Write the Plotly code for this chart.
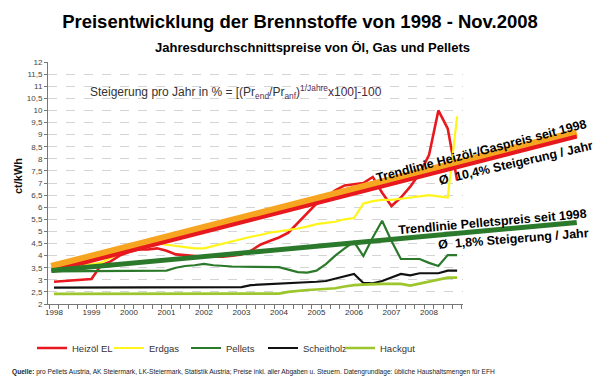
import plotly.graph_objects as go

# ---------------- data (quarterly, 1998 Q1 .. 2008 Q4) ----------------
year_labels = ["1998", "1999", "2000", "2001", "2002", "2003", "2004", "2005", "2006", "2007", "2008"]
year_ticks = [1998, 1999, 2000, 2001, 2002, 2003, 2004, 2005, 2006, 2007, 2008]
n_quarters = 44
quarters = [1998 + i * 0.25 for i in range(n_quarters)]

heizoel = [2.92, 2.95, 3.00, 3.00, 3.03, 3.60, 3.75, 4.00, 4.15, 4.25, 4.25, 4.30,
           4.20, 4.05, 4.02, 4.00, 3.95, 3.97, 3.95, 4.00, 4.05, 4.20, 4.45, 4.60,
           4.75, 4.95, 5.35, 5.75, 6.15, 6.40, 6.70, 6.90, 6.95, 7.00, 7.25, 6.60,
           6.05, 6.40, 6.85, 7.40, 8.15, 10.00, 9.25, 7.10]
erdgas = [3.60, 3.60, 3.60, 3.62, 3.65, 3.70, 3.90, 4.10, 4.30, 4.45, 4.50, 4.50,
          4.45, 4.40, 4.35, 4.30, 4.30, 4.40, 4.50, 4.60, 4.70, 4.78, 4.85, 4.95,
          5.00, 5.05, 5.12, 5.20, 5.30, 5.35, 5.40, 5.50, 5.55, 6.15, 6.25, 6.30,
          6.30, 6.35, 6.40, 6.45, 6.50, 6.45, 6.40, 9.75]
pellets = [3.35, 3.35, 3.35, 3.35, 3.35, 3.35, 3.35, 3.35, 3.35, 3.35, 3.35, 3.35,
           3.38, 3.50, 3.57, 3.60, 3.66, 3.60, 3.56, 3.55, 3.54, 3.54, 3.54, 3.54,
           3.52, 3.42, 3.32, 3.30, 3.38, 3.65, 4.00, 4.30, 4.57, 3.98, 4.75, 5.44,
           4.60, 3.86, 3.86, 3.86, 3.70, 3.57, 4.02, 4.02]
scheitholz = [2.68] * 20 + [2.70, 2.78, 2.80, 2.82, 2.83, 2.84, 2.85, 2.88, 2.92, 2.95,
                            3.05, 3.15, 3.24, 2.87, 2.85, 2.95, 3.10, 3.24, 3.18, 3.27,
                            3.27, 3.27, 3.38, 3.38]
hackgut = [2.42] * 24 + [2.43, 2.50, 2.55, 2.58, 2.60, 2.62, 2.65, 2.72, 2.78, 2.80,
                         2.83, 2.83, 2.83, 2.83, 2.76, 2.85, 2.92, 3.02, 3.09, 3.09]

trend_x = [1997.93, 2011.94]
trend_gas = [3.53, 9.08]
trend_oil = [3.36, 8.92]
trend_pellets = [3.38, 5.37]

y_ticks = [2 + 0.5 * i for i in range(21)]

# ---------------- layout geometry ----------------
W, H = 600, 386
L, R, T, B = 48, 20, 62, 82
PW, PH = W - L - R, H - T - B


def px(x):
    return (x - L) / PW


def py(y):
    return (H - B - y) / PH


FONT = "Liberation Sans, Arial, sans-serif"
C_RED = "#e8191e"
C_YEL = "#fff51a"
C_GRN = "#2b7a2b"
C_BLK = "#111111"
C_HACK = "#9dc62d"
C_ORANGE = "#f7a520"

fig = go.Figure()

series = [("Heizöl EL", heizoel, C_RED, 2.6),
          ("Erdgas", erdgas, C_YEL, 2.2),
          ("Pellets", pellets, C_GRN, 2.2),
          ("Scheitholz", scheitholz, C_BLK, 2.2),
          ("Hackgut", hackgut, C_HACK, 2.6)]
for name, vals, col, w in series:
    fig.add_trace(go.Scatter(x=quarters, y=vals, name=name, mode="lines",
                             line=dict(color=col, width=w), xaxis="x", yaxis="y"))

# trend lines (drawn on a wider, hidden subplot so they run past the axis)
fig.add_trace(go.Scatter(x=trend_x, y=trend_gas, mode="lines", showlegend=False,
                         line=dict(color=C_ORANGE, width=8), xaxis="x2", yaxis="y2"))
fig.add_trace(go.Scatter(x=trend_x, y=trend_oil, mode="lines", showlegend=False,
                         line=dict(color=C_RED, width=4), xaxis="x2", yaxis="y2"))
fig.add_trace(go.Scatter(x=trend_x, y=trend_pellets, mode="lines", showlegend=False,
                         line=dict(color=C_GRN, width=5), xaxis="x2", yaxis="y2"))

x0 = 1997.84
ppy = 37.5
main_dom = (463 - L) / PW
x1 = x0 + (463 - L) / ppy
x2_end = x0 + PW / ppy

fig.update_layout(
    width=W, height=H,
    margin=dict(l=L, r=R, t=T, b=B, pad=0),
    paper_bgcolor="white", plot_bgcolor="rgba(0,0,0,0)",
    separators=",.",
    font=dict(family=FONT, color="#333"),
    title=dict(text="<b>Preisentwicklung der Brennstoffe von 1998 - Nov.2008</b>",
               x=0.5, xref="container", xanchor="center",
               y=1 - 22 / H, yref="container", yanchor="middle",
               font=dict(size=18.5, color="#000", family=FONT)),
    xaxis=dict(domain=[0, main_dom], range=[x0, x1], tickmode="array",
               tickvals=year_ticks, ticktext=year_labels, ticks="", showgrid=False,
               showline=True, linecolor="#777", linewidth=1, zeroline=False,
               tickfont=dict(size=8, color="#333"), anchor="y",
               minor=dict(tickmode="linear", tick0=1997.875, dtick=0.25,
                          ticks="outside", ticklen=4, tickcolor="#777", showgrid=False)),
    yaxis=dict(range=[2, 12], tickmode="array", tickvals=y_ticks, ticks="outside",
               ticklen=3, tickcolor="#777", showline=True, linecolor="#777",
               linewidth=1, showgrid=True, gridcolor="#d4d4d4", griddash="dash",
               gridwidth=1, zeroline=False, tickfont=dict(size=8, color="#444"),
               anchor="x"),
    xaxis2=dict(domain=[0, 1], range=[x0, x2_end], visible=False, anchor="y2"),
    yaxis2=dict(domain=[0, 1], range=[2, 12], visible=False, anchor="x2"),
    legend=dict(orientation="h", x=px(32), xanchor="left", y=py(348), yanchor="middle",
                font=dict(size=9.5, color="#333"), entrywidth=32, entrywidthmode="pixels",
                bgcolor="rgba(0,0,0,0)", itemwidth=30),
    showlegend=True,
)

annotations = [
    dict(text="<b>Jahresdurchschnittspreise von Öl, Gas und Pellets</b>", x=px(312), y=py(48),
         xanchor="center", yanchor="middle", font=dict(size=13, color="#000")),
    dict(text="<b>ct/kWh</b>", x=px(18), y=py(176), textangle=-90,
         xanchor="center", yanchor="middle", font=dict(size=11, color="#111")),
    dict(text="Steigerung pro Jahr in % = [(Pr<sub><span style='color:#5a2d55'>end</span></sub>/Pr"
              "<sub><span style='color:#5a2d55'>anf</span></sub>)<sup><span style='color:#5a2d55'>1/Jahre</span></sup>"
              "<span style='color:#4a2a3a'>x100]-100</span>",
         x=px(88), y=py(92), xanchor="left", yanchor="middle", font=dict(size=12, color="#333")),
    dict(text="<b>Trendlinie Heizöl-/Gaspreis seit 1998</b>", x=px(481), y=py(151),
         textangle=-14.5, xanchor="center", yanchor="middle", font=dict(size=12.5, color="#000")),
    dict(text="<b>Ø  10,4% Steigerung / Jahr</b>", x=px(516), y=py(163),
         textangle=-13, xanchor="center", yanchor="middle", font=dict(size=12.5, color="#000")),
    dict(text="<b>Trendlinie Pelletspreis seit 1998</b>", x=px(492), y=py(222),
         textangle=-5, xanchor="center", yanchor="middle", font=dict(size=12.5, color="#000")),
    dict(text="<b>Ø  1,8% Steigerung / Jahr</b>", x=px(513), y=py(239),
         textangle=-4.5, xanchor="center", yanchor="middle", font=dict(size=12.5, color="#000")),
    dict(text="<b>Quelle:</b> pro Pellets Austria, AK Steiermark, LK-Steiermark, Statistik Austria; "
              "Preise inkl. aller Abgaben u. Steuern. Datengrundlage: übliche Haushaltsmengen für EFH",
         x=px(10), y=py(372), xanchor="left", yanchor="middle", font=dict(size=6.6, color="#222")),
]
for a in annotations:
    a.update(xref="paper", yref="paper", showarrow=False)
fig.update_layout(annotations=annotations)

fig.write_html("out.html", config={"displayModeBar": False},
               post_script="document.body.style.margin='0';")
